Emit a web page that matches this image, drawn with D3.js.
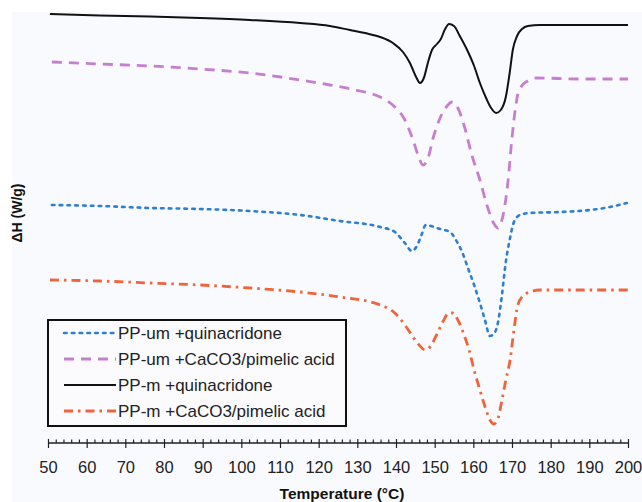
<!DOCTYPE html>
<html>
<head>
<meta charset="utf-8">
<script src="https://cdn.jsdelivr.net/npm/d3@7"></script>
<style>
  html, body { margin: 0; padding: 0; background: #ffffff; }
  svg { display: block; font-family: "Liberation Sans", Arial, sans-serif; }
</style>
</head>
<body>
<svg id="chart" width="642" height="502"></svg>
<script>
// DSC heating thermograms, ΔH (W/g, curves offset vertically) vs temperature (°C)
const tempTicks = [50, 60, 70, 80, 90, 100, 110, 120, 130, 140, 150, 160, 170, 180, 190, 200];

const seriesNames = [
  "PP-um +quinacridone",
  "PP-um +CaCO3/pimelic acid",
  "PP-m +quinacridone",
  "PP-m +CaCO3/pimelic acid"
];

// [temperature, ΔH (shifted)]
const ppUmQuin = [
  [51, 2.35], [63.4, 2.34], [76.4, 2.32], [89.3, 2.31], [102.2, 2.29], [115.2, 2.25],
  [125.5, 2.19], [135.9, 2.13], [139.7, 2.08], [142.3, 1.97], [144.1, 1.89], [145.4, 1.94],
  [146.5, 2.04], [147.7, 2.15], [149.0, 2.14], [151.4, 2.11], [154.0, 2.08], [155.5, 2.00],
  [157.1, 1.88], [158.6, 1.72], [160.2, 1.55], [161.7, 1.37], [163.0, 1.20], [164.3, 1.04],
  [165.3, 1.06], [166.4, 1.18], [167.4, 1.45], [168.4, 1.78], [169.5, 2.02], [170.5, 2.18],
  [172.1, 2.25], [174.6, 2.27], [182.4, 2.28], [190.2, 2.30], [195.3, 2.33], [199.7, 2.37]
];

const ppUmCaCO3 = [
  [51, 3.78], [63.4, 3.76], [76.4, 3.74], [89.3, 3.71], [102.2, 3.67], [115.2, 3.60],
  [122.9, 3.55], [130.7, 3.49], [135.9, 3.43], [139.7, 3.33], [142.3, 3.20], [144.4, 3.00],
  [145.7, 2.85], [147.0, 2.75], [148.3, 2.82], [149.6, 3.02], [151.4, 3.22], [153.2, 3.34],
  [154.5, 3.38], [156.0, 3.32], [157.8, 3.12], [159.6, 2.85], [161.7, 2.60], [163.5, 2.35],
  [165.1, 2.18], [166.4, 2.12], [167.7, 2.25], [169.0, 2.60], [169.7, 2.90], [170.5, 3.20],
  [171.3, 3.42], [172.3, 3.53], [174.1, 3.59], [176.5, 3.62], [187.6, 3.61], [200, 3.61]
];

const ppMQuin = [
  [50.5, 4.26], [63.4, 4.245], [76.4, 4.235], [89.3, 4.22], [102.2, 4.20], [115.2, 4.17],
  [122.9, 4.14], [128.1, 4.10], [132.0, 4.07], [135.9, 4.03], [139.2, 3.97], [141.8, 3.88],
  [143.6, 3.77], [145.2, 3.63], [146.2, 3.57], [147.2, 3.62], [148.3, 3.78], [149.3, 3.90],
  [150.6, 3.96], [151.6, 4.01], [152.7, 4.11], [153.7, 4.16], [155.0, 4.14], [156.5, 4.04],
  [158.4, 3.90], [160.2, 3.74], [161.7, 3.57], [163.3, 3.42], [164.6, 3.32], [165.9, 3.27],
  [167.1, 3.30], [168.4, 3.43], [169.5, 3.70], [170.2, 3.90], [171.3, 4.04], [172.6, 4.11],
  [174.1, 4.14], [177.2, 4.15], [187.6, 4.15], [200, 4.15]
];

const ppMCaCO3 = [
  [50.5, 1.60], [63.4, 1.59], [76.4, 1.57], [89.3, 1.55], [102.2, 1.52], [115.2, 1.48],
  [125.5, 1.43], [135.9, 1.35], [139.7, 1.27], [142.3, 1.15], [144.4, 1.03], [146.2, 0.94],
  [147.5, 0.90], [148.8, 0.93], [150.6, 1.06], [152.1, 1.18], [153.7, 1.27], [154.7, 1.27],
  [156.0, 1.20], [157.6, 1.05], [158.9, 0.90], [160.2, 0.70], [161.7, 0.50], [163.3, 0.30],
  [164.3, 0.20], [165.3, 0.16], [166.4, 0.22], [167.4, 0.40], [168.4, 0.60], [169.5, 0.80],
  [170.5, 1.10], [171.5, 1.35], [172.8, 1.44], [174.6, 1.48], [177.2, 1.50], [187.6, 1.50],
  [200, 1.50]
];

const svg = d3.select("#chart");

// faint tinted backdrop
svg.append("rect")
  .attr("x", 12).attr("y", 12).attr("width", 630).attr("height", 490)
  .attr("fill", "#f9fafd");

const x = d3.scaleLinear().domain([50, 200]).range([48, 628]);
const y = d3.scaleLinear().domain([0, 4.3]).range([440, 10]);

const styles = [
  { data: ppUmQuin,  color: "#2f7fd0", width: 2.6, dash: "2.6,5.2", cap: "round" },
  { data: ppUmCaCO3, color: "#c67fd0", width: 2.8, dash: "10,7",    cap: "butt" },
  { data: ppMQuin,   color: "#111111", width: 2.0, dash: null,      cap: "butt" },
  { data: ppMCaCO3,  color: "#f0643c", width: 2.8, dash: "9,5,2.5,5", cap: "butt" }
];

const line = d3.line()
  .x(d => x(d[0]))
  .y(d => y(d[1]))
  .curve(d3.curveMonotoneX);

styles.forEach(s => {
  svg.append("path")
    .datum(s.data)
    .attr("fill", "none")
    .attr("stroke", s.color)
    .attr("stroke-width", s.width)
    .attr("stroke-linecap", s.cap)
    .attr("stroke-linejoin", "round")
    .attr("stroke-dasharray", s.dash)
    .attr("d", line);
});

// x axis: line, major ticks crossing the line, minor ticks above it
const axisY = 443;
const minorTicks = d3.range(50, 201, 2).filter(t => t % 10 !== 0);

const gMinor = svg.append("g").attr("transform", `translate(0,${axisY})`)
  .call(d3.axisBottom(x).tickValues(minorTicks).tickSize(-3.5).tickFormat(""));
const gMajorUp = svg.append("g").attr("transform", `translate(0,${axisY})`)
  .call(d3.axisBottom(x).tickValues(tempTicks).tickSize(-4).tickFormat(""));
const gMajor = svg.append("g").attr("transform", `translate(0,${axisY})`)
  .call(d3.axisBottom(x).tickValues(tempTicks).tickSize(5).tickPadding(13).tickFormat(d3.format("d")));

[gMinor, gMajorUp, gMajor].forEach(g => {
  g.select(".domain").attr("stroke", "#222").attr("stroke-width", 1.4);
  g.selectAll(".tick line").attr("stroke", "#222").attr("stroke-width", 1.2);
});
gMinor.select(".domain").remove();
gMajorUp.select(".domain").remove();
gMajor.select(".domain").attr("d", `M${x(50)},0H${x(200)}`);
gMajor.selectAll(".tick text")
  .attr("fill", "#222")
  .style("font-size", "16.5px")
  .style("font-family", "'Liberation Sans', Arial, sans-serif");

svg.append("text")
  .attr("x", 342).attr("y", 499)
  .attr("text-anchor", "middle")
  .style("font-size", "15.5px").style("font-weight", "bold")
  .attr("fill", "#111")
  .text("Temperature (°C)");

svg.append("text")
  .attr("transform", "translate(22,213) rotate(-90)")
  .attr("text-anchor", "middle")
  .style("font-size", "14px").style("font-weight", "bold")
  .attr("fill", "#111")
  .text("ΔH (W/g)");

// legend
const legend = svg.append("g");
legend.append("rect")
  .attr("x", 48).attr("y", 320).attr("width", 298).attr("height", 106)
  .attr("fill", "#fbfbfd").attr("stroke", "#111").attr("stroke-width", 2);

seriesNames.forEach((name, i) => {
  const s = styles[i];
  const ly = 333 + i * 26;
  legend.append("line")
    .attr("x1", 64).attr("x2", 116).attr("y1", ly).attr("y2", ly)
    .attr("stroke", s.color).attr("stroke-width", s.width)
    .attr("stroke-linecap", s.cap)
    .attr("stroke-dasharray", s.dash);
  legend.append("text")
    .attr("x", 118).attr("y", ly + 6)
    .style("font-size", "17px")
    .attr("fill", "#222")
    .text(name);
});
</script>
</body>
</html>
